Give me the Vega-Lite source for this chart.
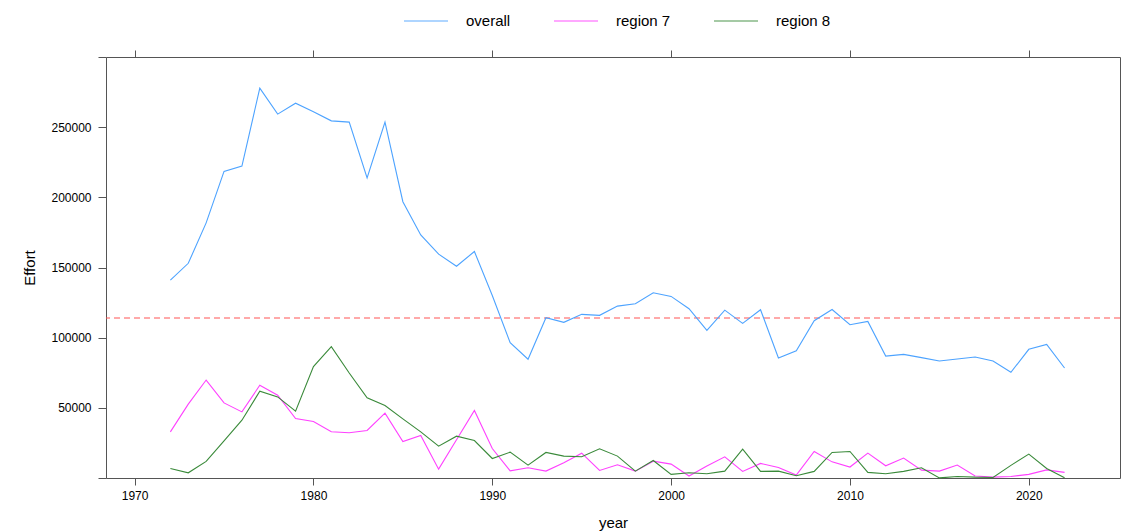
{
  "$schema": "https://vega.github.io/schema/vega-lite/v6.json",
  "autosize": "none",
  "width": 1014,
  "height": 421,
  "padding": {"left": 106, "top": 57, "right": 2, "bottom": 54},
  "background": "white",
  "config": {
    "font": "Liberation Sans",
    "view": {"stroke": "#555555", "strokeWidth": 1},
    "axis": {"grid": false, "domain": false, "tickColor": "#555555", "labelColor": "#000000", "titleColor": "#000000", "labelFont": "Liberation Sans", "titleFont": "Liberation Sans", "titleFontWeight": "normal", "labelFontSize": 12, "titleFontSize": 15}
  },
  "datasets": {
    "effort": [
      {"year":1972,"series":"overall","Effort":141000},{"year":1973,"series":"overall","Effort":153000},{"year":1974,"series":"overall","Effort":181800},{"year":1975,"series":"overall","Effort":218500},{"year":1976,"series":"overall","Effort":222300},{"year":1977,"series":"overall","Effort":277800},{"year":1978,"series":"overall","Effort":259300},{"year":1979,"series":"overall","Effort":267100},{"year":1980,"series":"overall","Effort":261000},{"year":1981,"series":"overall","Effort":254500},{"year":1982,"series":"overall","Effort":253600},{"year":1983,"series":"overall","Effort":213800},{"year":1984,"series":"overall","Effort":253600},{"year":1985,"series":"overall","Effort":196900},{"year":1986,"series":"overall","Effort":173200},{"year":1987,"series":"overall","Effort":159500},{"year":1988,"series":"overall","Effort":150900},{"year":1989,"series":"overall","Effort":161400},{"year":1990,"series":"overall","Effort":130000},{"year":1991,"series":"overall","Effort":96400},{"year":1992,"series":"overall","Effort":84600},{"year":1993,"series":"overall","Effort":114200},{"year":1994,"series":"overall","Effort":110900},{"year":1995,"series":"overall","Effort":116600},{"year":1996,"series":"overall","Effort":115900},{"year":1997,"series":"overall","Effort":122500},{"year":1998,"series":"overall","Effort":124200},{"year":1999,"series":"overall","Effort":132000},{"year":2000,"series":"overall","Effort":129400},{"year":2001,"series":"overall","Effort":120600},{"year":2002,"series":"overall","Effort":105200},{"year":2003,"series":"overall","Effort":119600},{"year":2004,"series":"overall","Effort":110200},{"year":2005,"series":"overall","Effort":119900},{"year":2006,"series":"overall","Effort":85500},{"year":2007,"series":"overall","Effort":90700},{"year":2008,"series":"overall","Effort":112100},{"year":2009,"series":"overall","Effort":120100},{"year":2010,"series":"overall","Effort":109200},{"year":2011,"series":"overall","Effort":111600},{"year":2012,"series":"overall","Effort":86900},{"year":2013,"series":"overall","Effort":88100},{"year":2014,"series":"overall","Effort":85800},{"year":2015,"series":"overall","Effort":83400},{"year":2016,"series":"overall","Effort":84800},{"year":2017,"series":"overall","Effort":86200},{"year":2018,"series":"overall","Effort":83400},{"year":2019,"series":"overall","Effort":75300},{"year":2020,"series":"overall","Effort":91700},{"year":2021,"series":"overall","Effort":95200},{"year":2022,"series":"overall","Effort":78400},
      {"year":1972,"series":"region 7","Effort":32900},{"year":1973,"series":"region 7","Effort":52600},{"year":1974,"series":"region 7","Effort":69800},{"year":1975,"series":"region 7","Effort":53500},{"year":1976,"series":"region 7","Effort":47100},{"year":1977,"series":"region 7","Effort":66100},{"year":1978,"series":"region 7","Effort":59000},{"year":1979,"series":"region 7","Effort":42400},{"year":1980,"series":"region 7","Effort":40300},{"year":1981,"series":"region 7","Effort":32900},{"year":1982,"series":"region 7","Effort":32200},{"year":1983,"series":"region 7","Effort":33900},{"year":1984,"series":"region 7","Effort":46200},{"year":1985,"series":"region 7","Effort":26000},{"year":1986,"series":"region 7","Effort":30300},{"year":1987,"series":"region 7","Effort":6300},{"year":1988,"series":"region 7","Effort":27200},{"year":1989,"series":"region 7","Effort":48100},{"year":1990,"series":"region 7","Effort":21000},{"year":1991,"series":"region 7","Effort":5100},{"year":1992,"series":"region 7","Effort":7300},{"year":1993,"series":"region 7","Effort":4900},{"year":1994,"series":"region 7","Effort":10800},{"year":1995,"series":"region 7","Effort":17700},{"year":1996,"series":"region 7","Effort":5400},{"year":1997,"series":"region 7","Effort":9400},{"year":1998,"series":"region 7","Effort":4900},{"year":1999,"series":"region 7","Effort":12000},{"year":2000,"series":"region 7","Effort":9900},{"year":2001,"series":"region 7","Effort":1400},{"year":2002,"series":"region 7","Effort":8500},{"year":2003,"series":"region 7","Effort":15100},{"year":2004,"series":"region 7","Effort":4700},{"year":2005,"series":"region 7","Effort":10400},{"year":2006,"series":"region 7","Effort":7500},{"year":2007,"series":"region 7","Effort":2100},{"year":2008,"series":"region 7","Effort":18900},{"year":2009,"series":"region 7","Effort":11500},{"year":2010,"series":"region 7","Effort":7800},{"year":2011,"series":"region 7","Effort":17700},{"year":2012,"series":"region 7","Effort":8700},{"year":2013,"series":"region 7","Effort":14200},{"year":2014,"series":"region 7","Effort":5600},{"year":2015,"series":"region 7","Effort":4900},{"year":2016,"series":"region 7","Effort":9200},{"year":2017,"series":"region 7","Effort":1400},{"year":2018,"series":"region 7","Effort":600},{"year":2019,"series":"region 7","Effort":1100},{"year":2020,"series":"region 7","Effort":2600},{"year":2021,"series":"region 7","Effort":5800},{"year":2022,"series":"region 7","Effort":4000},
      {"year":1972,"series":"region 8","Effort":6800},{"year":1973,"series":"region 8","Effort":3700},{"year":1974,"series":"region 8","Effort":11800},{"year":1975,"series":"region 8","Effort":26500},{"year":1976,"series":"region 8","Effort":41200},{"year":1977,"series":"region 8","Effort":61800},{"year":1978,"series":"region 8","Effort":57800},{"year":1979,"series":"region 8","Effort":47600},{"year":1980,"series":"region 8","Effort":79400},{"year":1981,"series":"region 8","Effort":93600},{"year":1982,"series":"region 8","Effort":74800},{"year":1983,"series":"region 8","Effort":57100},{"year":1984,"series":"region 8","Effort":51600},{"year":1985,"series":"region 8","Effort":42100},{"year":1986,"series":"region 8","Effort":32900},{"year":1987,"series":"region 8","Effort":22700},{"year":1988,"series":"region 8","Effort":29800},{"year":1989,"series":"region 8","Effort":26700},{"year":1990,"series":"region 8","Effort":13900},{"year":1991,"series":"region 8","Effort":18400},{"year":1992,"series":"region 8","Effort":9200},{"year":1993,"series":"region 8","Effort":18200},{"year":1994,"series":"region 8","Effort":15600},{"year":1995,"series":"region 8","Effort":15100},{"year":1996,"series":"region 8","Effort":20800},{"year":1997,"series":"region 8","Effort":15600},{"year":1998,"series":"region 8","Effort":4900},{"year":1999,"series":"region 8","Effort":12500},{"year":2000,"series":"region 8","Effort":2600},{"year":2001,"series":"region 8","Effort":3700},{"year":2002,"series":"region 8","Effort":3000},{"year":2003,"series":"region 8","Effort":4900},{"year":2004,"series":"region 8","Effort":20600},{"year":2005,"series":"region 8","Effort":4700},{"year":2006,"series":"region 8","Effort":4900},{"year":2007,"series":"region 8","Effort":1600},{"year":2008,"series":"region 8","Effort":4700},{"year":2009,"series":"region 8","Effort":18200},{"year":2010,"series":"region 8","Effort":18900},{"year":2011,"series":"region 8","Effort":4000},{"year":2012,"series":"region 8","Effort":3000},{"year":2013,"series":"region 8","Effort":4700},{"year":2014,"series":"region 8","Effort":7300},{"year":2015,"series":"region 8","Effort":100},{"year":2016,"series":"region 8","Effort":1100},{"year":2017,"series":"region 8","Effort":600},{"year":2018,"series":"region 8","Effort":400},{"year":2019,"series":"region 8","Effort":9000},{"year":2020,"series":"region 8","Effort":17000},{"year":2021,"series":"region 8","Effort":6800},{"year":2022,"series":"region 8","Effort":100}
    ],
    "refline": [{"Effort": 114000}]
  },
  "layer": [
    {
      "data": {"name": "refline"},
      "mark": {"type": "rule", "color": "#ff5555", "strokeDash": [6, 4], "strokeWidth": 1.2},
      "encoding": {
        "y": {"field": "Effort", "type": "quantitative", "scale": {"domain": [0, 300000], "nice": false, "zero": false}, "axis": {"orient": "left", "values": [0, 50000, 100000, 150000, 200000, 250000, 300000], "labelExpr": "datum.value == 0 || datum.value == 300000 ? '' : datum.value", "tickSize": 8, "labelPadding": 7, "title": "Effort", "titlePadding": 13}}
      }
    },
    {
      "data": {"name": "effort"},
      "mark": {"type": "line", "strokeWidth": 1.1},
      "encoding": {
        "x": {"field": "year", "type": "quantitative", "scale": {"domain": [1968.4, 2025.1], "nice": false, "zero": false}, "axis": {"orient": "bottom", "values": [1970, 1980, 1990, 2000, 2010, 2020], "format": "d", "tickSize": 7, "labelPadding": 5, "title": "year", "titlePadding": 14}},
        "y": {"field": "Effort", "type": "quantitative"},
        "color": {"field": "series", "type": "nominal", "scale": {"domain": ["overall", "region 7", "region 8"], "range": ["#4da3ff", "#ff40ff", "#3a8a3a"]},
          "legend": {"title": null, "orient": "none", "direction": "horizontal", "legendX": 297, "legendY": -59, "symbolType": "stroke", "symbolSize": 1936, "symbolStrokeWidth": 1.5, "symbolOpacity": 0.6, "labelFontSize": 15, "labelFont": "Liberation Sans", "labelColor": "#000000", "labelOffset": 17, "columnPadding": 40}}
      }
    },
    {
      "data": {"name": "effort"},
      "mark": {"type": "line", "strokeOpacity": 0},
      "encoding": {
        "x": {"field": "year", "type": "quantitative", "axis": {"orient": "top", "values": [1970, 1980, 1990, 2000, 2010, 2020], "labels": false, "tickSize": 7, "title": null}},
        "y": {"field": "Effort", "type": "quantitative"},
        "detail": {"field": "series"}
      }
    }
  ],
  "resolve": {"axis": {"x": "independent"}}
}
